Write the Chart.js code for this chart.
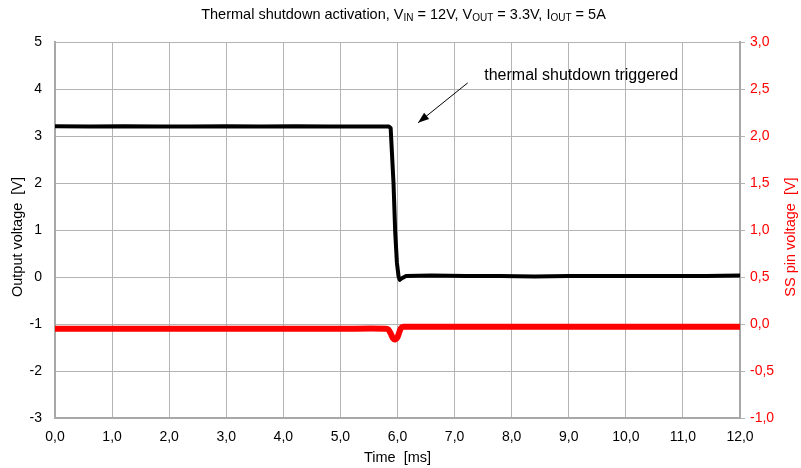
<!DOCTYPE html>
<html>
<head>
<meta charset="utf-8">
<script src="https://cdn.jsdelivr.net/npm/chart.js@4/dist/chart.umd.min.js"></script>
<style>
    html, body { margin: 0; padding: 0; background: #fff; }
    #wrap { position: relative; width: 801px; height: 468px; }
    #title {
        position: absolute; top: 6px; left: 3px; width: 801px; text-align: center;
        font: 14.5px "Liberation Sans", Arial, sans-serif; color: #000; line-height: 17px;
    }
    #title sub { font-size: 10px; line-height: 0; vertical-align: -2px; }
</style>
</head>
<body>
<div id="wrap">
    <canvas id="chart" width="801" height="468"></canvas>
    <div id="title">Thermal shutdown activation, V<sub>IN</sub> = 12V, V<sub>OUT</sub> = 3.3V, I<sub>OUT</sub> = 5A</div>
</div>
<script>
    // ─── data ────────────────────────────────────────────────────────────────
    const timeVout = [0, 0.6, 1.2, 1.8, 2.4, 3.0, 3.6, 4.2, 4.8, 5.4, 5.85, 5.88, 5.90, 5.93, 5.96, 5.99, 6.02, 6.04, 6.07, 6.15, 6.6, 7.2, 7.8, 8.4, 9.0, 9.6, 10.2, 10.8, 11.4, 12.0];
    const vout     = [3.21, 3.20, 3.21, 3.20, 3.20, 3.21, 3.20, 3.21, 3.20, 3.20, 3.20, 3.17, 2.70, 2.00, 0.95, 0.30, 0.00, -0.06, -0.03, 0.02, 0.03, 0.02, 0.02, 0.01, 0.02, 0.02, 0.02, 0.02, 0.02, 0.03];

    const timeSs = [0, 1, 2, 3, 4, 5, 5.80, 5.84, 5.88, 5.92, 5.96, 6.00, 6.03, 6.06, 6.10, 7, 8, 9, 10, 11, 12];
    const ssPin  = [-0.05, -0.05, -0.05, -0.05, -0.05, -0.05, -0.05, -0.06, -0.10, -0.15, -0.165, -0.14, -0.09, -0.045, -0.03, -0.03, -0.03, -0.03, -0.03, -0.03, -0.03];

    const xTicks  = [0, 1, 2, 3, 4, 5, 6, 7, 8, 9, 10, 11, 12];
    const yTicks  = [-3, -2, -1, 0, 1, 2, 3, 4, 5];
    const y2Ticks = [-1, -0.5, 0, 0.5, 1, 1.5, 2, 2.5, 3];

    // annotation (in data units: ms / V on the left axis)
    const noteText  = 'thermal shutdown triggered';
    const noteAt    = [7.52, 4.28];
    const arrowFrom = [7.23, 4.13];
    const arrowTo   = [6.36, 3.28];

    const FONT = '"Liberation Sans", Arial, sans-serif';
    const comma = v => v.toFixed(1).replace('.', ',');
    const GRID = '#b4b4b4';

    // ─── plugin: axis titles + arrow note ────────────────────────────────────
    const extras = {
        id: 'extras',
        afterDraw(chart) {
            const { ctx, chartArea: a, scales } = chart;
            ctx.save();
            ctx.font = '14.5px ' + FONT;
            ctx.textAlign = 'center';
            ctx.textBaseline = 'middle';

            ctx.fillStyle = '#000';
            ctx.fillText('Time  [ms]', (a.left + a.right) / 2, 458);

            const midY = 237;
            ctx.save();
            ctx.translate(18, midY);
            ctx.rotate(-Math.PI / 2);
            ctx.fillText('Output voltage  [V]', 0, 0);
            ctx.restore();

            ctx.save();
            ctx.fillStyle = '#ff0000';
            ctx.translate(791, midY);
            ctx.rotate(-Math.PI / 2);
            ctx.fillText('SS pin voltage  [V]', 0, 0);
            ctx.restore();

            // note
            const x = scales.x, y = scales.y;
            const x1 = x.getPixelForValue(arrowFrom[0]), y1 = y.getPixelForValue(arrowFrom[1]);
            const x2 = x.getPixelForValue(arrowTo[0]),   y2 = y.getPixelForValue(arrowTo[1]);
            ctx.strokeStyle = '#000';
            ctx.fillStyle = '#000';
            ctx.lineWidth = 1;
            ctx.beginPath();
            ctx.moveTo(x1, y1);
            ctx.lineTo(x2, y2);
            ctx.stroke();
            const ang = Math.atan2(y2 - y1, x2 - x1);
            const L = 11, W = 4;
            ctx.beginPath();
            ctx.moveTo(x2, y2);
            ctx.lineTo(x2 - L * Math.cos(ang) + W * Math.sin(ang), y2 - L * Math.sin(ang) - W * Math.cos(ang));
            ctx.lineTo(x2 - L * Math.cos(ang) - W * Math.sin(ang), y2 - L * Math.sin(ang) + W * Math.cos(ang));
            ctx.closePath();
            ctx.fill();

            ctx.font = '16px ' + FONT;
            ctx.textAlign = 'left';
            ctx.fillText(noteText, x.getPixelForValue(noteAt[0]), y.getPixelForValue(noteAt[1]));
            ctx.restore();
        }
    };

    const toPoints = (xs, ys) => xs.map((t, i) => ({ x: t, y: ys[i] }));

    new Chart(document.getElementById('chart'), {
        type: 'line',
        data: {
            datasets: [
                { label: 'SS pin', data: toPoints(timeSs, ssPin), yAxisID: 'y2', borderColor: '#ff0000', borderWidth: 6, pointRadius: 0, tension: 0.3, borderJoinStyle: 'round' },
                { label: 'Vout', data: toPoints(timeVout, vout), yAxisID: 'y', borderColor: '#000', borderWidth: 4, pointRadius: 0, tension: 0, borderJoinStyle: 'round' }
            ]
        },
        options: {
            responsive: false,
            animation: false,
            devicePixelRatio: 1,
            layout: { padding: { top: 42, left: 0, right: 0, bottom: 0 } },
            plugins: { legend: { display: false }, title: { display: false }, tooltip: { enabled: false } },
            scales: {
                x: {
                    type: 'linear', min: 0, max: 12,
                    afterBuildTicks: s => { s.ticks = xTicks.map(v => ({ value: v })); },
                    afterFit: s => { s.height = 50; },
                    grid: { color: GRID, lineWidth: 1, drawTicks: false },
                    border: { color: '#a8a8a8', width: 2 },
                    ticks: { color: '#000', font: { family: FONT, size: 14 }, padding: 11, maxRotation: 0, callback: v => comma(v) }
                },
                y: {
                    position: 'left', min: -3, max: 5,
                    afterBuildTicks: s => { s.ticks = yTicks.map(v => ({ value: v })); },
                    afterFit: s => { s.width = 55; },
                    grid: { color: GRID, lineWidth: 1, drawTicks: false },
                    border: { color: '#a8a8a8', width: 2 },
                    ticks: { color: '#000', font: { family: FONT, size: 14 }, padding: 13, callback: v => String(v) }
                },
                y2: {
                    position: 'right', min: -1, max: 3,
                    afterBuildTicks: s => { s.ticks = y2Ticks.map(v => ({ value: v })); },
                    afterFit: s => { s.width = 61; },
                    grid: { color: GRID, drawOnChartArea: false, tickLength: 5 },
                    border: { color: '#a8a8a8', width: 2 },
                    ticks: { color: '#ff0000', font: { family: FONT, size: 14 }, padding: 5, callback: v => comma(v) }
                }
            }
        },
        plugins: [extras]
    });
</script>
</body>
</html>
